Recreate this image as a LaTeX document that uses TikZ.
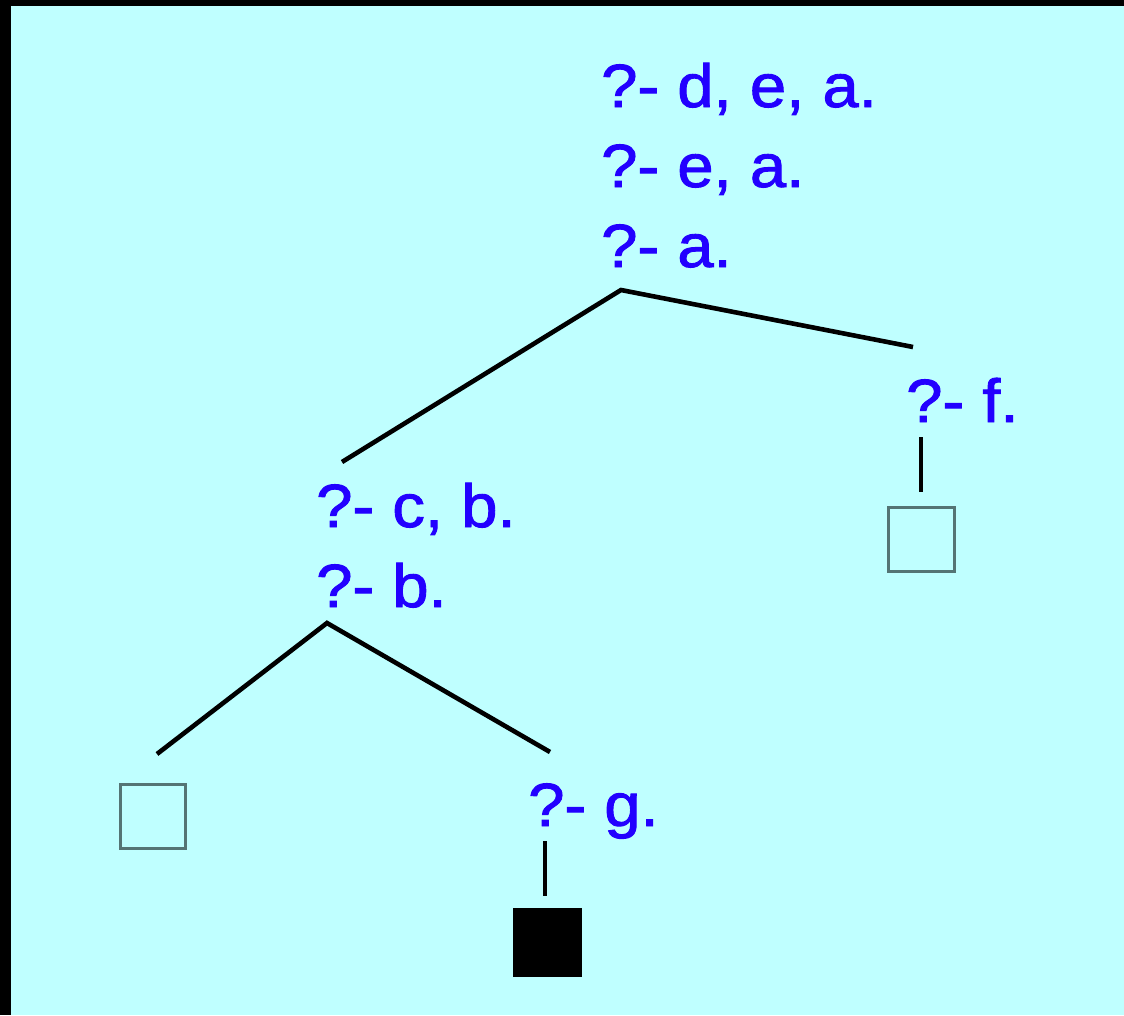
\documentclass[tikz,border=0pt]{standalone}
\usepackage{fontspec}
\setmainfont[FakeStretch=1.07,FakeBold=1.5]{Liberation Sans}
\definecolor{bgcyan}{RGB}{191,255,255}
\definecolor{qblue}{RGB}{34,0,255}
\definecolor{boxgray}{RGB}{84,116,116}
\begin{document}
\begin{tikzpicture}[x=1pt,y=-1pt,
  query/.style={anchor=base west,inner sep=0pt,text=qblue,font=\fontsize{61}{80}\selectfont},
  edge/.style={line width=4.6pt,black,line join=miter},
  leafbox/.style={draw=boxgray,line width=3.4pt,inner sep=0pt,minimum width=65.5pt,minimum height=64pt},
  failbox/.style={fill=black,draw=none,inner sep=0pt,minimum width=69pt,minimum height=69pt}]
\useasboundingbox (0,0) rectangle (1124,1015);
\fill[bgcyan] (0,0) rectangle (1124,1015);
\fill[black] (0,0) rectangle (1124,6);
\fill[black] (0,0) rectangle (11,1015);
% queries
\node[query] (q1) at (601,107) {?- d, e, a.};
\node[query] (q2) at (601,187) {?- e, a.};
\node[query] (q3) at (601,267) {?- a.};
\node[query] (qf) at (906,422) {?- f.};
\node[query] (qc1) at (316,527) {?- c, b.};
\node[query] (qc2) at (316,607) {?- b.};
\node[query] (qg) at (528,826) {?- g.};
% boxes
\node[leafbox] (bf) at (921.5,539.5) {};
\node[leafbox] (bl) at (153,816.5) {};
\node[failbox] (bg) at (547.5,942.5) {};
% connector coordinates
\coordinate (j1) at (621,290);
\coordinate (j1l) at (342,462);
\coordinate (j1r) at (913,347);
\coordinate (j2) at (327,623);
\coordinate (j2l) at (157,754);
\coordinate (j2r) at (550,752);
\coordinate (fTop) at (921,437);
\coordinate (fBot) at (921,492);
\coordinate (gTop) at (545,841);
\coordinate (gBot) at (545,896);
% connectors
\draw[edge] (j1l) -- (j1) -- (j1r);
\draw[edge] (j2l) -- (j2) -- (j2r);
\draw[edge] (fTop) -- (fBot);
\draw[edge] (gTop) -- (gBot);
\end{tikzpicture}
\end{document}
